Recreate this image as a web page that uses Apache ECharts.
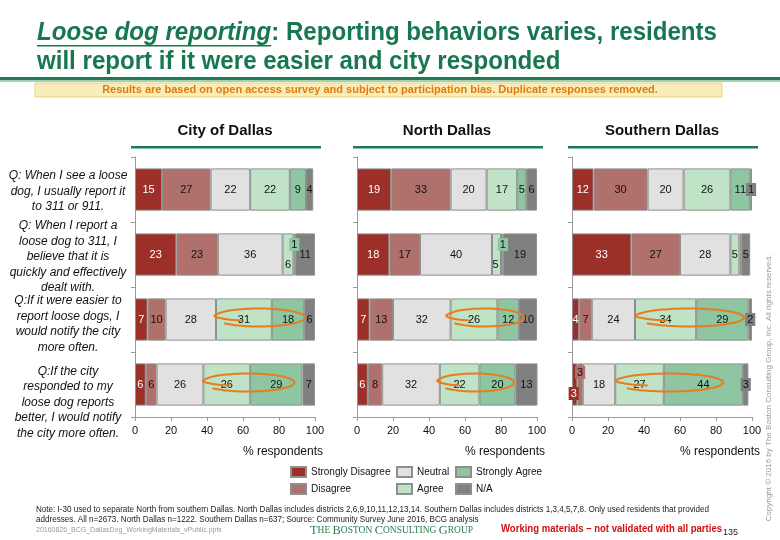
<!DOCTYPE html>
<html><head><meta charset="utf-8">
<script src="https://cdn.jsdelivr.net/npm/echarts@6/dist/echarts.min.js"></script>
<style>html,body{margin:0;padding:0;background:#fff}#c{width:780px;height:540px}</style>
</head><body><div id="c"></div>
<script>
// ---------- data ----------
const panels = ["City of Dallas", "North Dallas", "Southern Dallas"];
const responses = ["Strongly Disagree", "Disagree", "Neutral", "Agree", "Strongly Agree", "N/A"];
const categories = [
  "Q: When I see a loose\ndog, I usually report it\nto 311 or 911.",
  "Q: When I report a\nloose dog to 311, I\nbelieve that it is\nquickly and effectively\ndealt with.",
  "Q:If it were easier to\nreport loose dogs, I\nwould notify the city\nmore often.",
  "Q:If the city\nresponded to my\nloose dog reports\nbetter, I would notify\nthe city more often."
];
const xTicks = [0, 20, 40, 60, 80, 100];
// [panel][question]
const stronglyDisagree = [[15, 23, 7, 6], [19, 18, 7, 6], [12, 33, 4, 3]];
const disagree         = [[27, 23, 10, 6], [33, 17, 13, 8], [30, 27, 7, 3]];
const neutral          = [[22, 36, 28, 26], [20, 40, 32, 32], [20, 28, 24, 18]];
const agree            = [[22, 6, 31, 26], [17, 5, 26, 22], [26, 5, 34, 27]];
const stronglyAgree    = [[9, 1, 18, 29], [5, 1, 12, 20], [11, 1, 29, 44]];
const notApplicable    = [[4, 11, 6, 7], [6, 19, 10, 13], [1, 5, 2, 3]];
// hand-drawn highlight loops (in % units) for questions 3 and 4, per panel
const highlightRanges = [[[43.5, 94.5], [37, 88.5]], [[49, 92.8], [44, 87.2]], [[34.4, 95.5], [23.4, 84]]];

// ---------- styling ----------
const FONT = '"Liberation Sans", Arial, Helvetica, sans-serif';
const colors = ['#9c3028', '#b0706b', '#e1e1e1', '#c0e2c7', '#8dc6a1', '#808080'];
const GREEN = '#17784f';
const ORANGE = '#e57e1e';
const gridLefts = [135, 357, 572];
const GRID_W = 180, GRID_TOP = 157, GRID_H = 260;
// small-segment label placement (panel, response, question)
const labelTweaks = [
  {p: 0, r: 3, q: 1, dx: 0, dy: 10},
  {p: 0, r: 4, q: 1, dx: 0, dy: -10, box: true},
  {p: 1, r: 3, q: 1, dx: -1, dy: 10},
  {p: 1, r: 4, q: 1, dx: 1, dy: -10, box: true},
  {p: 2, r: 5, q: 0, dx: 0, dy: 0, box: true},
  {p: 2, r: 4, q: 1, hide: true},
  {p: 2, r: 5, q: 2, dx: 0, dy: 0, box: true},
  {p: 2, r: 0, q: 3, dx: -1, dy: 9, box: true},
  {p: 2, r: 1, q: 3, dx: 0, dy: -12, box: true},
  {p: 2, r: 5, q: 3, dx: 0, dy: 0, box: true}
];
const qLabelOffsets = [2, 2.5, 4.5, 18];

const seriesValues = [stronglyDisagree, disagree, neutral, agree, stronglyAgree, notApplicable];

const chart = echarts.init(document.getElementById('c'), null, {renderer: 'canvas'});

const grids = [], xAxes = [], yAxes = [], series = [];
panels.forEach((p, pi) => {
  grids.push({left: gridLefts[pi], top: GRID_TOP, width: GRID_W, height: GRID_H, containLabel: false});
  xAxes.push({
    gridIndex: pi, type: 'value', min: xTicks[0], max: xTicks[xTicks.length - 1], interval: xTicks[1] - xTicks[0],
    axisLine: {show: true, lineStyle: {color: '#9a9a9a'}},
    axisTick: {show: true, length: 4, lineStyle: {color: '#9a9a9a'}},
    axisLabel: {fontSize: 11, color: '#111', margin: 8, fontFamily: FONT},
    splitLine: {show: false},
    name: '% respondents', nameLocation: 'end', nameGap: 8,
    nameTextStyle: {align: 'right', verticalAlign: 'top', padding: [29, 0, 0, 0], fontSize: 12, color: '#111', fontFamily: FONT}
  });
  yAxes.push({
    gridIndex: pi, type: 'category', data: categories, inverse: true,
    axisLine: {show: true, lineStyle: {color: '#9a9a9a'}},
    axisTick: {show: true, length: 4, lineStyle: {color: '#9a9a9a'}},
    axisLabel: {show: false}
  });
  responses.forEach((r, si) => {
    series.push({
      type: 'bar', name: r, stack: 'stack' + pi, xAxisIndex: pi, yAxisIndex: pi,
      barCategoryGap: '35%',
      itemStyle: {color: colors[si], borderColor: '#8f8f8f', borderWidth: 1},
      label: {show: true, position: 'inside', color: si === 0 ? '#fff' : '#111', fontSize: 11, fontFamily: FONT},
      emphasis: {disabled: true},
      data: seriesValues[si][pi].map((v, qi) => {
        const t = labelTweaks.find(o => o.p === pi && o.r === si && o.q === qi);
        if (!t) return v;
        if (t.hide) return {value: v, label: {show: false}};
        const lab = {offset: [t.dx, t.dy]};
        if (t.box) { lab.backgroundColor = colors[si]; lab.padding = [1, 2]; }
        return {value: v, label: lab};
      })
    });
  });
});

const legends = [0, 1, 2].map(c => ({
  orient: 'vertical', left: [290, 396, 455][c], top: 466, padding: 0,
  itemWidth: 15, itemHeight: 10, itemGap: 5, icon: 'rect', selectedMode: false,
  data: [responses[2 * c], responses[2 * c + 1]],
  textStyle: {fontSize: 10, color: '#111', fontFamily: FONT}
}));

chart.setOption({
  animation: false,
  backgroundColor: '#fff',
  grid: grids, xAxis: xAxes, yAxis: yAxes, series: series, legend: legends
});

// ---------- annotations / static text ----------
const mctx = document.createElement('canvas').getContext('2d');
function measure(text, font) { mctx.font = font; return mctx.measureText(text).width; }
const g = [];
// header
const TITLE_SIZE = 25;
const t1a = 'Loose dog reporting', t1b = ': Reporting behaviors varies, residents';
const wA = measure(t1a, 'italic bold ' + TITLE_SIZE + 'px "Liberation Sans"');
const wB = measure(t1b, 'bold ' + TITLE_SIZE + 'px "Liberation Sans"');
const titleScale = 680 / (wA + wB);
g.push({type: 'text', x: 37, y: 19, scaleX: titleScale, style: {
  text: '{it|' + t1a + '}{n|' + t1b + '}\n{n|will report if it were easier and city responded}',
  rich: {
    it: {fontFamily: FONT, fontSize: TITLE_SIZE, fontWeight: 'bold', fontStyle: 'italic', fill: GREEN, lineHeight: 29},
    n: {fontFamily: FONT, fontSize: TITLE_SIZE, fontWeight: 'bold', fill: GREEN, lineHeight: 29}
  }
}});
g.push({type: 'rect', shape: {x: 37, y: 45, width: wA * titleScale, height: 1.6}, style: {fill: GREEN}});
g.push({type: 'rect', shape: {x: 0, y: 77, width: 780, height: 3}, style: {fill: '#1d7a55'}});
g.push({type: 'rect', shape: {x: 0, y: 80, width: 780, height: 2}, style: {fill: '#a3d1b3'}});
g.push({type: 'rect', shape: {x: 35, y: 83, width: 687, height: 14}, style: {fill: '#f9edb9', stroke: '#efd27c', lineWidth: 1}});
g.push({type: 'text', x: 380, y: 90, style: {text: 'Results are based on open access survey and subject to participation bias. Duplicate responses removed.',
  fontFamily: FONT, fontSize: 11, fontWeight: 'bold', fill: '#e27a0c', align: 'center', verticalAlign: 'middle'}});

// panel titles + underline
panels.forEach((p, pi) => {
  const a = chart.convertToPixel({gridIndex: pi}, [0, categories[0]]);
  const b = chart.convertToPixel({gridIndex: pi}, [100, categories[0]]);
  g.push({type: 'text', x: (a[0] + b[0]) / 2, y: 131, style: {text: p, fontFamily: FONT, fontSize: 15, fontWeight: 'bold', fill: '#111', align: 'center', verticalAlign: 'middle'}});
  g.push({type: 'rect', shape: {x: a[0] - 4, y: 146, width: b[0] - a[0] + 10, height: 2.5}, style: {fill: '#1d7a55'}});
  // highlight loops on questions 3 and 4
  highlightRanges[pi].forEach((rg, k) => {
    const qi = 2 + k;
    const l = chart.convertToPixel({gridIndex: pi}, [rg[0], categories[qi]]);
    const r = chart.convertToPixel({gridIndex: pi}, [rg[1], categories[qi]]);
    const cx = (l[0] + r[0]) / 2, rx = (r[0] - l[0]) / 2, cy = l[1] - 2, ry = 9;
    const pts = [];
    for (let deg = 140; deg <= 500; deg += 6) {
      const k2 = deg < 190 ? 0.5 + 0.5 * (deg - 140) / 50 : 1;
      const a2 = deg * Math.PI / 180;
      pts.push([cx + rx * k2 * Math.cos(a2), cy + ry * k2 * Math.sin(a2)]);
    }
    g.push({type: 'polyline', shape: {points: pts, smooth: 0.3}, style: {stroke: ORANGE, lineWidth: 2, fill: null}, z: 100});
  });
});

// question labels
categories.forEach((q, qi) => {
  const c = chart.convertToPixel({gridIndex: 0}, [0, q]);
  g.push({type: 'text', x: 68, y: c[1] + qLabelOffsets[qi], style: {text: q, fontFamily: FONT, fontSize: 12, fontStyle: 'italic',
    fill: '#111', align: 'center', verticalAlign: 'middle', lineHeight: 15.5}});
});

// footer
const note1 = 'Note: I-30 used to separate North from southern Dallas. North Dallas includes districts 2,6,9,10,11,12,13,14. Southern Dallas includes districts 1,3,4,5,7,8. Only used residents that provided';
const note2 = 'addresses. All n=2673. North Dallas n=1222. Southern Dallas n=637; Source: Community Survey June 2016, BCG analysis';
const noteScale = 673 / measure(note1, '9px "Liberation Sans"');
g.push({type: 'text', x: 36, y: 505, scaleX: noteScale, style: {text: note1 + '\n' + note2, fontFamily: FONT, fontSize: 9, fill: '#222', lineHeight: 10}});
g.push({type: 'text', x: 36, y: 527, style: {text: '20160826_BCG_DallasDog_WorkingMaterials_vPublic.pptx', fontFamily: FONT, fontSize: 7, fill: '#999'}});
g.push({type: 'text', x: 310, y: 524, scaleX: 0.95, style: {
  text: '{b|T}{s|HE }{b|B}{s|OSTON }{b|C}{s|ONSULTING }{b|G}{s|ROUP}',
  rich: {b: {fontFamily: '"Liberation Serif", serif', fontSize: 13, fill: '#2a7d4f'}, s: {fontFamily: '"Liberation Serif", serif', fontSize: 10, fill: '#2a7d4f'}}
}});
const wm = 'Working materials \u2013 not validated with all parties';
const wmScale = 221 / measure(wm, 'bold 11px "Liberation Sans"');
g.push({type: 'text', x: 501, y: 523, scaleX: wmScale, style: {text: wm, fontFamily: FONT, fontSize: 11, fontWeight: 'bold', fill: '#d20f0f'}});
g.push({type: 'text', x: 723, y: 528, style: {text: '135', fontFamily: FONT, fontSize: 9, fill: '#222'}});
g.push({type: 'text', x: 769, y: 388, rotation: Math.PI / 2, style: {text: 'Copyright \u00a9 2016 by The Boston Consulting Group, Inc. All rights reserved.',
  fontFamily: FONT, fontSize: 8, fill: '#9a9a9a', align: 'center', verticalAlign: 'middle'}});

chart.setOption({graphic: g});
</script></body></html>
